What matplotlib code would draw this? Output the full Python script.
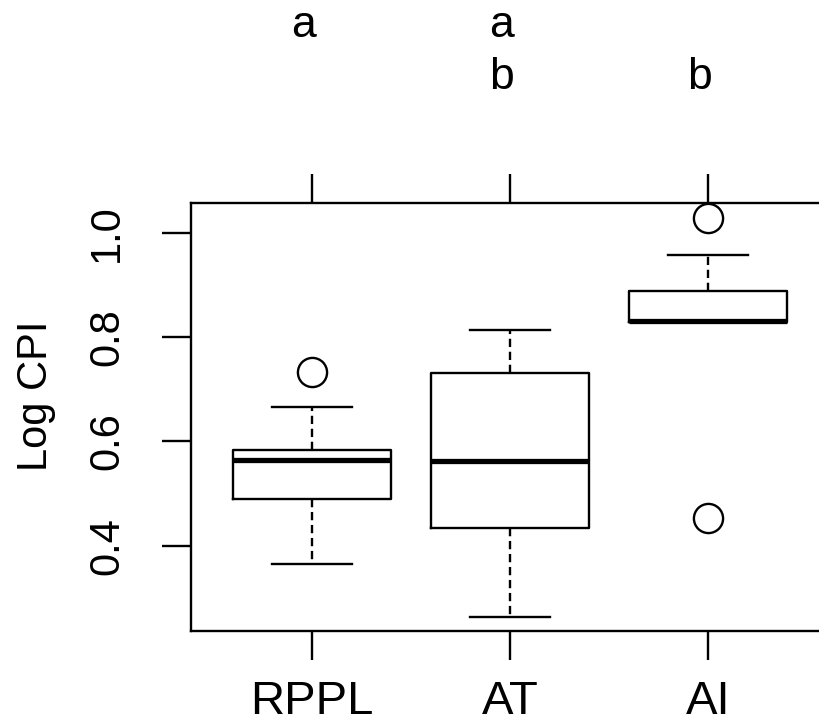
import matplotlib
matplotlib.use("Agg")
import matplotlib.pyplot as plt
from matplotlib.transforms import blended_transform_factory

# Summary statistics for each group (Log CPI)
groups = ["RPPL", "AT", "AI"]
whisker_low = [0.365, 0.263, 0.829]
q1 = [0.489, 0.434, 0.829]
median = [0.565, 0.562, 0.831]
q3 = [0.583, 0.730, 0.888]
whisker_high = [0.665, 0.813, 0.957]
outliers = [[0.732], [], [1.029, 0.453]]
# Compact letter display (significance groups)
letters = [["a", ""], ["a", "b"], ["", "b"]]
yticks = [0.4, 0.6, 0.8, 1.0]

plt.rcParams["font.family"] = ["Liberation Sans", "DejaVu Sans"]

W, H = 820, 726
fig = plt.figure(figsize=(W / 100, H / 100), dpi=100)
ax = fig.add_axes([191 / W, 95 / H, 637.6 / W, 428.3 / H])

stats = []
for i, g in enumerate(groups):
    stats.append(dict(label=g, whislo=whisker_low[i], q1=q1[i], med=median[i],
                      q3=q3[i], whishi=whisker_high[i], fliers=outliers[i]))

lw = 1.7
positions = list(range(1, len(groups) + 1))
ax.bxp(stats, positions=positions, widths=0.8, capwidths=0.4,
       boxprops=dict(color="black", linewidth=lw),
       whiskerprops=dict(color="black", linewidth=lw, linestyle=(0, (3.5, 2))),
       capprops=dict(color="black", linewidth=lw),
       medianprops=dict(color="black", linewidth=3.8, solid_capstyle="butt"),
       flierprops=dict(marker="o", markerfacecolor="none", markeredgecolor="black",
                       markersize=21, markeredgewidth=lw))

ax.set_xlim(0.389, 3.609)
ax.set_ylim(0.2362, 1.0575)

for s in ax.spines.values():
    s.set_linewidth(lw)
ax.spines["right"].set_visible(False)

ax.set_yticks(yticks)
ax.set_yticklabels([f"{v:.1f}" for v in yticks], rotation=90, va="center")
ax.set_xticks(positions)
ax.set_xticklabels(groups)
ax.tick_params(axis="both", direction="out", length=21, width=lw)
ax.tick_params(axis="x", top=True, labeltop=False, pad=14, labelsize=34)
ax.tick_params(axis="y", pad=25, labelsize=30)

ax.set_ylabel("Log CPI", fontsize=30, va="center")
ax.yaxis.set_label_coords(-0.243, (631 - 396) / 428.3)

# Significance letters above each group
trans = blended_transform_factory(ax.transData, fig.transFigure)
row_base = [37, 89]
for i, pos in enumerate(positions):
    for r, letter in enumerate(letters[i]):
        if letter:
            ax.text(pos - 0.045, 1 - row_base[r] / H, letter, transform=trans,
                    ha="center", va="baseline", fontsize=32, clip_on=False)

fig.savefig("out.png", dpi=100)
